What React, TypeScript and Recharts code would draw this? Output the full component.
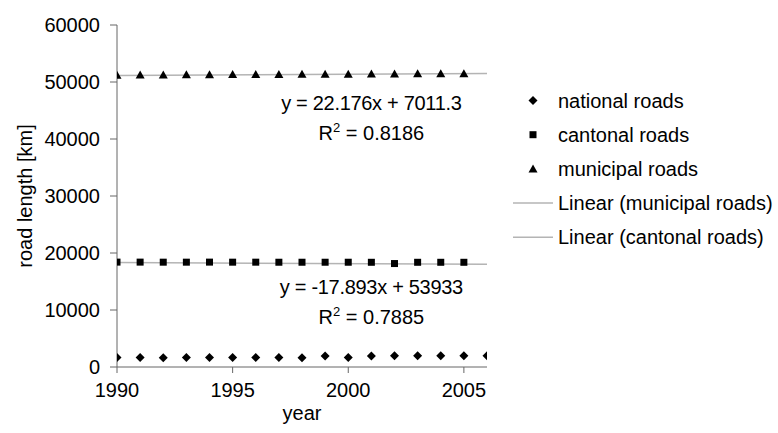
import { ComposedChart, Scatter, Line, XAxis, YAxis, Legend, ReferenceDot } from "recharts"

// road length per year
const years = [1990, 1991, 1992, 1993, 1994, 1995, 1996, 1997, 1998, 1999, 2000, 2001, 2002, 2003, 2004, 2005, 2006]
const nationalRoads = [1650, 1650, 1640, 1650, 1650, 1650, 1650, 1650, 1640, 1950, 1650, 1950, 1960, 1960, 1960, 1970, 1970]
const cantonalRoads = [18400, 18400, 18390, 18390, 18400, 18390, 18390, 18380, 18380, 18380, 18380, 18370, 18150, 18370, 18370, 18370]
const municipalRoads = [51200, 51220, 51250, 51260, 51280, 51300, 51310, 51330, 51350, 51370, 51380, 51400, 51410, 51430, 51450, 51460]

// linear trend endpoints (1990, 2006)
const trendYears = [1990, 2006]
const municipalTrend = [51140, 51500]
const cantonalTrend = [18330, 18040]

const xTicks = [1990, 1995, 2000, 2005]
const yTicks = [0, 10000, 20000, 30000, 40000, 50000, 60000]

const legendItems = [
  { name: "national roads", kind: "diamond" },
  { name: "cantonal roads", kind: "square" },
  { name: "municipal roads", kind: "triangle" },
  { name: "Linear (municipal roads)", kind: "line" },
  { name: "Linear (cantonal roads)", kind: "line" },
]

const font = "'Liberation Sans', Arial, sans-serif"
const axisColor = "#666"
const trendColor = "#b4b4b4"

const toPoints = (xs: number[], values: number[]) => values.map((value, i) => ({ year: xs[i], value }))

const Diamond = ({ cx, cy }: any) => (
  <path d={`M${cx},${cy - 4.5}L${cx + 4.5},${cy}L${cx},${cy + 4.5}L${cx - 4.5},${cy}Z`} fill="#000" />
)
const Square = ({ cx, cy }: any) => <rect x={cx - 3.5} y={cy - 3.5} width={7} height={7} fill="#000" />
const Triangle = ({ cx, cy }: any) => (
  <path d={`M${cx},${cy - 4.5}L${cx + 4.5},${cy + 3.5}L${cx - 4.5},${cy + 3.5}Z`} fill="#000" />
)

function LegendBox() {
  return (
    <svg width={278} height={175} style={{ display: "block" }}>
      {legendItems.map((item, i) => {
        const cy = 17.5 + i * 34.2
        return (
          <g key={item.name}>
            {item.kind === "diamond" && <Diamond cx={33} cy={cy} />}
            {item.kind === "square" && <Square cx={33} cy={cy} />}
            {item.kind === "triangle" && <Triangle cx={33} cy={cy} />}
            {item.kind === "line" && <line x1={13} x2={53} y1={cy} y2={cy} stroke={trendColor} strokeWidth={1.5} />}
            <text x={58} y={cy + 7} fontSize={20} fontFamily={font} fill="#000">
              {item.name}
            </text>
          </g>
        )
      })}
    </svg>
  )
}

function TrendLabel({ viewBox, eq, r2 }: any) {
  const cx = viewBox.cx ?? viewBox.x
  const cy = viewBox.cy ?? viewBox.y
  return (
    <g fontFamily={font} fontSize={20} fill="#000" textAnchor="middle">
      <text x={cx} y={cy + 7} letterSpacing={-0.3}>{eq}</text>
      <text x={cx} y={cy + 37}>
        R<tspan dy={-8} fontSize={13}>2</tspan>
        <tspan dy={8}> = {r2}</tspan>
      </text>
    </g>
  )
}

export default function App() {
  return (
    <div style={{ position: "absolute", left: 0, top: 0, background: "#fff" }}>
      <ComposedChart width={778} height={433} margin={{ top: 25, right: 291, bottom: 0, left: 0 }}>
        <XAxis
          type="number"
          dataKey="year"
          domain={[1990, 2006]}
          ticks={xTicks}
          allowDataOverflow
          height={66}
          stroke={axisColor}
          tickSize={6}
          tickMargin={10}
          tick={{ fill: "#000", fontSize: 20, fontFamily: font }}
          label={{ value: "year", position: "insideBottom", offset: 13, fill: "#000", fontSize: 20, fontFamily: font }}
        />
        <YAxis
          type="number"
          domain={[0, 60000]}
          ticks={yTicks}
          width={117}
          stroke={axisColor}
          tickSize={7}
          tickMargin={10}
          tick={{ fill: "#000", fontSize: 20, fontFamily: font }}
          label={{
            value: "road length [km]",
            angle: -90,
            position: "insideLeft",
            offset: 25,
            fill: "#000",
            fontSize: 20,
            fontFamily: font,
            style: { textAnchor: "middle" },
          }}
        />
        <Legend
          layout="vertical"
          align="center"
          verticalAlign="middle"
          wrapperStyle={{ left: 500, top: 83, width: 278 }}
          content={() => <LegendBox />}
        />
        <Line
          data={toPoints(trendYears, municipalTrend)}
          dataKey="value"
          type="linear"
          stroke={trendColor}
          strokeWidth={1.5}
          dot={false}
          isAnimationActive={false}
        />
        <Line
          data={toPoints(trendYears, cantonalTrend)}
          dataKey="value"
          type="linear"
          stroke={trendColor}
          strokeWidth={1.5}
          dot={false}
          isAnimationActive={false}
        />
        <Scatter name="national roads" data={toPoints(years, nationalRoads)} dataKey="value" shape={<Diamond />} isAnimationActive={false} />
        <Scatter name="cantonal roads" data={toPoints(years, cantonalRoads)} dataKey="value" shape={<Square />} isAnimationActive={false} />
        <Scatter name="municipal roads" data={toPoints(years, municipalRoads)} dataKey="value" shape={<Triangle />} isAnimationActive={false} />
        <ReferenceDot
          x={2001}
          y={46300}
          r={0}
          fill="none"
          stroke="none"
          label={<TrendLabel eq="y = 22.176x + 7011.3" r2="0.8186" />}
        />
        <ReferenceDot
          x={2001}
          y={14100}
          r={0}
          fill="none"
          stroke="none"
          label={<TrendLabel eq="y = -17.893x + 53933" r2="0.7885" />}
        />
      </ComposedChart>
    </div>
  )
}
